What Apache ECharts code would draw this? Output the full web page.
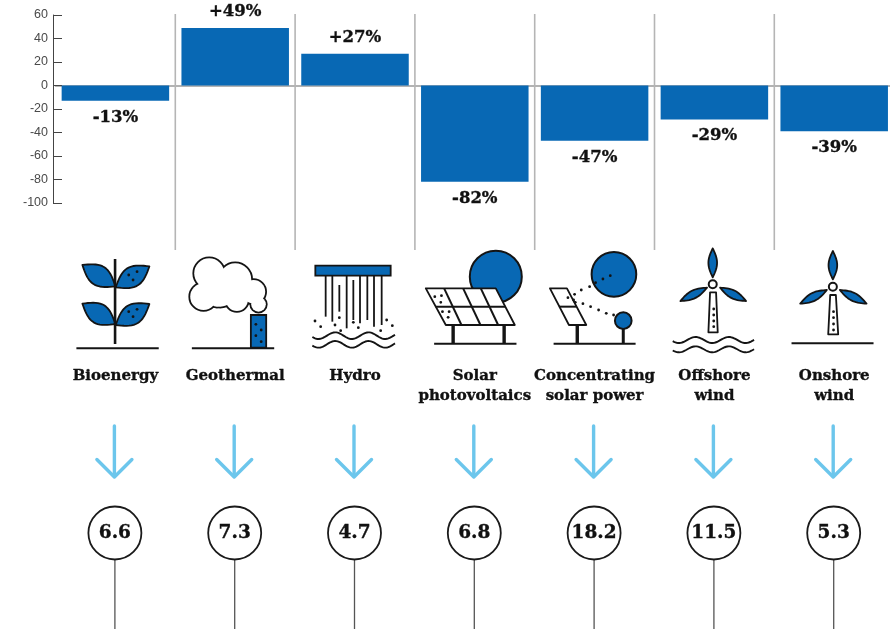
<!DOCTYPE html>
<html><head><meta charset="utf-8">
<style>html,body{margin:0;padding:0;background:#fff;overflow:hidden}#wrap{width:890px;height:629px;overflow:hidden}#c{width:900px;height:629px}</style>
<script src="https://cdn.jsdelivr.net/npm/echarts@6/dist/echarts.min.js"></script></head>
<body><div id="wrap"><div id="c"></div></div>
<script>
const categories = ['Bioenergy','Geothermal','Hydro','Solar\nphotovoltaics','Concentrating\nsolar power','Offshore\nwind','Onshore\nwind'];
const changePct = [-13,49,27,-82,-47,-29,-39];
const costValues = [6.6,7.3,4.7,6.8,18.2,11.5,5.3];
const yTicks = {min:-100,max:60,interval:20};

const SERIF = '"DejaVu Serif", serif';
const BLUE = '#0868b4', INK = '#141414', SKY = '#6cc6ec';

// Icon drawing helpers. Sketch units are 1/3 px; (zc) is the sketch x that sits on the category centre.
function mk(cx, zc, oy){
  const X = z => cx + (z - zc) / 3, Y = z => oy + z / 3;
  const P = (x,y) => [X(x),Y(y)];
  const line = (x1,y1,x2,y2,w=2,c=INK) => ({type:'line',shape:{x1:X(x1),y1:Y(y1),x2:X(x2),y2:Y(y2)},style:{stroke:c,lineWidth:w,fill:null}});
  const circ = (x,y,r,fill,w=2,stroke=INK) => ({type:'circle',shape:{cx:X(x),cy:Y(y),r:r/3},style:{fill,stroke,lineWidth:w}});
  const dot = (x,y) => ({type:'circle',shape:{cx:X(x),cy:Y(y),r:1.4},style:{fill:INK}});
  const poly = (pts,fill,w=1.8) => ({type:'polygon',shape:{points:pts.map(p=>P(p[0],p[1]))},style:{fill,stroke:INK,lineWidth:w,lineJoin:'round'}});
  const rect = (x1,y1,x2,y2,fill) => ({type:'rect',shape:{x:X(x1),y:Y(y1),width:(x2-x1)/3,height:(y2-y1)/3},style:{fill,stroke:INK,lineWidth:1.8}});
  const leaf = (x1,y1,x2,y2,hw) => {
    const pts=[], dx=x2-x1, dy=y2-y1, L=Math.hypot(dx,dy), nx=-dy/L, ny=dx/L, N=18;
    for(let k=0;k<=N;k++){const t=k/N,b=hw*Math.sin(Math.PI*t);pts.push([x1+dx*t+nx*b,y1+dy*t+ny*b]);}
    for(let k=N-1;k>0;k--){const t=k/N,b=hw*Math.sin(Math.PI*t);pts.push([x1+dx*t-nx*b,y1+dy*t-ny*b]);}
    return poly(pts,BLUE);
  };
  const wave = (x1,x2,y,amp,period) => {
    const pts=[]; for(let x=x1;x<=x2;x+=4) pts.push(P(x,y+amp*Math.sin((x-x1)/period*2*Math.PI+0.4)));
    return {type:'polyline',shape:{points:pts},style:{stroke:INK,lineWidth:1.9,fill:null}};
  };
  return {line,circ,dot,poly,rect,leaf,wave};
}

const iconDrawers = [
  cx => { const d=mk(cx,165,245); return [
    d.line(48,310,295,310),
    d.leaf(165,124,66,60,30), d.leaf(166,127,267,64,30),
    d.leaf(165,237,66,176,30), d.leaf(166,240,267,177,30),
    d.line(164,42,164,297,2.6),
    d.dot(205,90),d.dot(230,80),d.dot(218,105),d.dot(205,200),d.dot(230,193),d.dot(218,215)
  ];},
  cx => { const d=mk(cx,525,245);
    const lobes=[[447,85,45],[525,103,48],[580,140,35],[595,178,22],[530,165,33],[430,155,40],[480,140,45],[470,165,20]];
    return [
      ...lobes.map(l=>d.circ(l[0],l[1],l[2],'#fff',3.6)),
      ...lobes.map(l=>d.circ(l[0],l[1],l[2],'#fff',0,'#fff')),
      d.rect(572,210,618,308,BLUE),
      d.line(395,310,642,310),
      d.dot(587,238),d.dot(603,255),d.dot(587,272),d.dot(603,290)
    ];},
  cx => { const d=mk(cx,885,245);
    const falls=[[797,92,215],[817,92,230],[838,120,200],[860,92,250],[880,105,225],[900,92,235],[922,92,225],[942,92,245],[965,92,240]];
    const drops=[[765,228],[782,245],[825,240],[838,218],[842,257],[880,232],[895,248],[962,257],[980,225],[997,242]];
    return [
      ...falls.map(f=>d.line(f[0],f[1],f[0],f[2],1.8)),
      d.rect(766,62,992,92,BLUE),
      ...drops.map(p=>d.dot(p[0],p[1])),
      d.wave(757,1007,272,10,100), d.wave(757,1007,298,10,100)
    ];},
  cx => { const d=mk(cx,195,245); return [
    d.circ(258,95,78,BLUE),
    d.poly([[48,130],[258,130],[315,240],[108,240]],'#fff'),
    d.line(78,185,287,185),d.line(103,130,155,240),d.line(160,130,212,240),d.line(213,130,265,240),
    d.line(130,240,130,295,3.4),d.line(283,240,283,295,3.4),
    d.line(73,296,320,296),
    d.dot(75,155),d.dot(95,152),d.dot(93,172),d.dot(98,200),d.dot(118,200),d.dot(115,217)
  ];},
  cx => { const d=mk(cx,555,245);
    const beams=[[495,148],[515,135],[540,125],[558,113],[580,102],[602,92],[475,158],[492,165],[497,172],[520,176],[543,185],[567,195],[590,205],[612,210]];
    return [
      d.circ(613,88,67,BLUE),
      d.line(641,250,641,295,3),
      d.circ(641,227,25,BLUE),
      d.poly([[421,130],[472,130],[530,240],[478,240]],'#fff'),
      d.line(448,185,500,185),
      d.line(503,240,503,295,3.4),
      d.line(432,296,678,296),
      ...beams.map(p=>d.dot(p[0],p[1]))
    ];},
  cx => { const d=mk(cx,915,245); return [
    d.leaf(910,10,910,97,13), d.leaf(813,168,893,128,12), d.leaf(932,128,1010,168,12),
    d.poly([[902,142],[920,142],[925,262],[897,262]],'#fff'),
    d.circ(910,118,12,'#fff',2),
    d.dot(913,192),d.dot(913,210),d.dot(913,228),d.dot(913,245),
    d.wave(790,1037,285,9,100), d.wave(790,1037,313,9,100)
  ];},
  cx => { const d=mk(cx,1275,245); return [
    d.leaf(1271,18,1271,103,13), d.leaf(1173,176,1253,135,12), d.leaf(1292,135,1372,176,12),
    d.poly([[1263,150],[1280,150],[1287,268],[1257,268]],'#fff'),
    d.circ(1271,125,12,'#fff',2),
    d.dot(1273,200),d.dot(1273,218),d.dot(1273,237),d.dot(1273,255),
    d.line(1147,295,1393,295)
  ];}
];

const GRID_LEFT = 55.5, GRID_W = 838.6;
const idx = categories.map((_,i)=>i);
const heavy = {textBorderColor:'#111',textBorderWidth:0.35};

const option = {
  animation:false, backgroundColor:'#fff',
  grid:[
    {left:GRID_LEFT,width:GRID_W,top:15,height:188,containLabel:false},
    {left:GRID_LEFT,width:GRID_W,top:0,height:629,containLabel:false}
  ],
  xAxis:[
    {gridIndex:0,type:'category',data:categories,
      axisLine:{onZero:true,lineStyle:{color:'#9a9a9a',width:1.6}},axisTick:{show:false},axisLabel:{show:false}},
    {gridIndex:1,type:'category',data:categories,position:'top',offset:-364,
      axisLine:{show:false},axisTick:{show:false},
      axisLabel:{inside:true,interval:0,margin:2,fontFamily:SERIF,fontWeight:'bold',fontSize:15,lineHeight:20,color:'#111',verticalAlign:'top',hideOverlap:false,...heavy}}
  ],
  yAxis:[
    {gridIndex:0,type:'value',min:yTicks.min,max:yTicks.max,interval:yTicks.interval,offset:2.5,
      axisLine:{show:true,lineStyle:{color:'#444',width:1}},
      axisTick:{show:true,inside:true,length:9,lineStyle:{color:'#444',width:1}},
      axisLabel:{fontFamily:'"Liberation Sans", Arial, sans-serif',fontSize:12.5,color:'#4a4a4a',margin:5},
      splitLine:{show:false}},
    {gridIndex:1,type:'value',min:0,max:629,inverse:true,show:false}
  ],
  series:[
    {type:'custom',name:'separators',xAxisIndex:1,yAxisIndex:1,data:idx.slice(1).map(i=>[i]),silent:true,z:1,
      encode:{x:0},
      renderItem:(p,api)=>{
        const i=api.value(0), w=api.size([1,0])[0], x=api.coord([i,0])[0]-w/2;
        return {type:'line',shape:{x1:x,y1:api.coord([i,14])[1],x2:x,y2:api.coord([i,250])[1]},style:{stroke:'#b5b5b5',lineWidth:1.6}};
      }},
    {type:'bar',name:'Change',xAxisIndex:0,yAxisIndex:0,barWidth:107.5,z:3,
      data:changePct.map(v=>({value:v,label:{position:v<0?'bottom':'top'}})),
      itemStyle:{color:BLUE},
      label:{show:true,distance:8,fontFamily:SERIF,fontWeight:'bold',fontSize:16.5,color:'#111',...heavy,
        formatter:p=>(p.value>0?'+':'')+p.value+'%'}},
    {type:'custom',name:'icons',xAxisIndex:1,yAxisIndex:1,data:idx.map(i=>[i]),silent:true,z:2,
      encode:{x:0},
      renderItem:(p,api)=>{
        const i=api.value(0), cx=api.coord([i,0])[0];
        return {type:'group',children:iconDrawers[i](cx)};
      }},
    {type:'custom',name:'arrows',xAxisIndex:1,yAxisIndex:1,data:idx.map(i=>[i]),silent:true,z:2,
      encode:{x:0},
      renderItem:(p,api)=>{
        const i=api.value(0), x=api.coord([i,0])[0]-1, Y=v=>api.coord([i,v])[1];
        const s={stroke:SKY,lineWidth:3.4,lineCap:'round',lineJoin:'round',fill:null};
        return {type:'group',children:[
          {type:'line',shape:{x1:x,y1:Y(426),x2:x,y2:Y(476)},style:s},
          {type:'polyline',shape:{points:[[x-17.5,Y(459.5)],[x,Y(477)],[x+17.5,Y(459.5)]]},style:s}
        ]};
      }},
    {type:'custom',name:'stems',xAxisIndex:1,yAxisIndex:1,data:idx.map(i=>[i]),silent:true,z:2,
      encode:{x:0},
      renderItem:(p,api)=>{
        const i=api.value(0), x=api.coord([i,0])[0]-0.5;
        return {type:'line',shape:{x1:x,y1:api.coord([i,559])[1],x2:x,y2:api.coord([i,629])[1]},style:{stroke:'#555',lineWidth:1.3}};
      }},
    {type:'scatter',name:'Cost',xAxisIndex:1,yAxisIndex:1,symbol:'circle',symbolSize:53,symbolOffset:[-0.5,0],z:4,clip:false,
      data:costValues.map((v,i)=>[i,533,v]),
      itemStyle:{color:'#fff',borderColor:'#1a1a1a',borderWidth:1.8,opacity:1},
      label:{show:true,position:'inside',fontFamily:SERIF,fontWeight:'bold',fontSize:18.5,color:'#111',...heavy,
        formatter:p=>String(p.value[2])}}
  ]
};
const chart = echarts.init(document.getElementById('c'),null,{renderer:'canvas',width:900,height:629});
chart.setOption(option);
</script></body></html>
